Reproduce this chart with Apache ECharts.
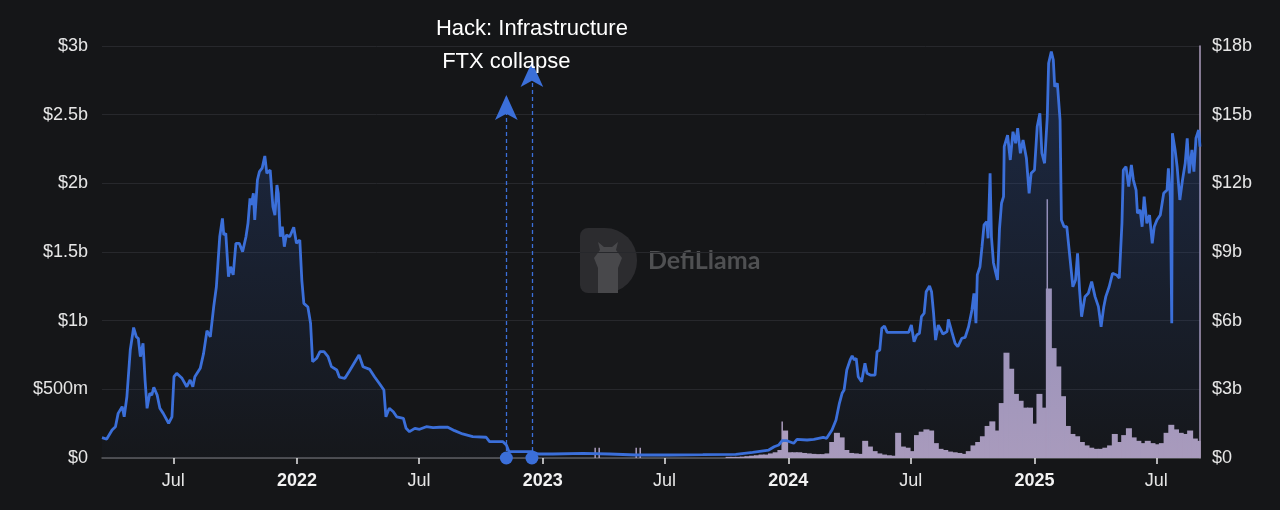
<!DOCTYPE html>
<html>
<head>
<meta charset="utf-8">
<script src="https://cdn.jsdelivr.net/npm/echarts@6/dist/echarts.min.js"></script>
<style>
html,body{margin:0;padding:0;background:#151618;}
#chart{width:1280px;height:510px;}
</style>
</head>
<body>
<div id="chart"></div>
<script>
// TVL in $b
const tvlDates = [
'2021-03-17','2021-03-24','2021-04-01','2021-04-06','2021-04-10','2021-04-16','2021-04-19','2021-04-23','2021-04-25','2021-04-28',
'2021-05-03','2021-05-07','2021-05-10','2021-05-13','2021-05-17','2021-05-20','2021-05-23','2021-05-27','2021-05-30','2021-06-02',
'2021-06-07','2021-06-11','2021-06-16','2021-06-24','2021-06-29','2021-07-02','2021-07-06','2021-07-14','2021-07-21','2021-07-26',
'2021-07-30','2021-08-02','2021-08-10','2021-08-15','2021-08-20','2021-08-25','2021-08-30','2021-09-03','2021-09-06','2021-09-08',
'2021-09-12','2021-09-14','2021-09-17','2021-09-21','2021-09-24','2021-09-28','2021-10-02','2021-10-07','2021-10-12','2021-10-17',
'2021-10-20','2021-10-23','2021-10-25','2021-10-28','2021-10-30','2021-11-03','2021-11-06','2021-11-10','2021-11-14','2021-11-17',
'2021-11-22','2021-11-26','2021-11-29','2021-12-02','2021-12-04','2021-12-07','2021-12-10','2021-12-13','2021-12-16','2021-12-21',
'2021-12-27','2021-12-31','2022-01-05','2022-01-08','2022-01-11','2022-01-17','2022-01-21','2022-01-24','2022-01-30','2022-02-04',
'2022-02-10','2022-02-16','2022-02-21','2022-03-01','2022-03-05','2022-03-13','2022-03-20','2022-03-28','2022-04-03','2022-04-09',
'2022-04-19','2022-04-26','2022-05-03','2022-05-10','2022-05-13','2022-05-18','2022-05-24','2022-05-29','2022-06-08','2022-06-12',
'2022-06-17','2022-06-25','2022-07-02','2022-07-12','2022-07-22','2022-08-01','2022-08-13','2022-08-23','2022-09-04','2022-09-19',
'2022-10-09','2022-10-14','2022-11-03','2022-11-08','2022-11-12','2022-11-23','2022-12-17','2022-12-25','2023-01-16','2023-03-02',
'2023-04-10','2023-05-20','2023-07-08','2023-08-27','2023-10-15','2023-11-09','2023-12-03','2023-12-11','2023-12-18','2023-12-23',
'2023-12-30','2024-01-09','2024-01-14','2024-01-29','2024-02-08','2024-02-22','2024-02-27','2024-03-06','2024-03-12','2024-03-17',
'2024-03-21','2024-03-24','2024-03-28','2024-04-02','2024-04-05','2024-04-08','2024-04-11','2024-04-14','2024-04-19','2024-04-24',
'2024-04-27','2024-05-02','2024-05-09','2024-05-12','2024-05-16','2024-05-19','2024-05-23','2024-05-27','2024-06-10','2024-06-28',
'2024-07-02','2024-07-06','2024-07-10','2024-07-14','2024-07-17','2024-07-21','2024-07-24','2024-07-29','2024-08-01','2024-08-04',
'2024-08-07','2024-08-11','2024-08-18','2024-08-24','2024-08-26','2024-08-31','2024-09-05','2024-09-09','2024-09-15','2024-09-20',
'2024-09-25','2024-09-30','2024-10-03','2024-10-06','2024-10-08','2024-10-12','2024-10-15','2024-10-18','2024-10-22','2024-10-24',
'2024-10-27','2024-10-29','2024-11-01','2024-11-04','2024-11-07','2024-11-10','2024-11-13','2024-11-16','2024-11-17','2024-11-19',
'2024-11-22','2024-11-26','2024-11-30','2024-12-04','2024-12-07','2024-12-11','2024-12-15','2024-12-20','2024-12-24','2024-12-27',
'2025-01-01','2025-01-05','2025-01-09','2025-01-12','2025-01-16','2025-01-20','2025-01-22','2025-01-26','2025-01-29','2025-01-31',
'2025-02-04','2025-02-08','2025-02-10','2025-02-14','2025-02-18','2025-02-23','2025-02-27','2025-03-03','2025-03-06','2025-03-09',
'2025-03-12','2025-03-17','2025-03-22','2025-03-27','2025-04-01','2025-04-06','2025-04-10','2025-04-14','2025-04-17','2025-04-22',
'2025-04-27','2025-05-03','2025-05-07','2025-05-11','2025-05-13','2025-05-17','2025-05-21','2025-05-25','2025-05-28','2025-06-01',
'2025-06-03','2025-06-07','2025-06-10','2025-06-13','2025-06-17','2025-06-21','2025-06-25','2025-06-28','2025-07-02','2025-07-07',
'2025-07-12','2025-07-17','2025-07-19','2025-07-22','2025-07-24','2025-07-25','2025-07-29','2025-08-01','2025-08-05','2025-08-09',
'2025-08-13','2025-08-16','2025-08-19','2025-08-23','2025-08-26','2025-08-29','2025-09-02','2025-09-04'
];
const tvlValues = [
0.148,0.138,0.204,0.228,0.325,0.374,0.30,0.446,0.458,0.786,
0.95,0.883,0.87,0.738,0.835,0.568,0.362,0.471,0.458,0.515,
0.458,0.362,0.325,0.253,0.30,0.592,0.617,0.58,0.519,0.568,
0.519,0.592,0.653,0.762,0.927,0.883,1.10,1.247,1.466,1.611,
1.745,1.624,1.636,1.32,1.393,1.333,1.563,1.563,1.502,1.611,
1.709,1.891,1.842,1.927,1.733,2.024,2.085,2.11,2.199,2.073,
2.097,1.83,1.769,1.988,1.927,1.611,1.684,1.539,1.624,1.611,
1.68,1.563,1.587,1.296,1.126,1.10,0.981,0.701,0.726,0.774,
0.774,0.738,0.665,0.641,0.588,0.58,0.636,0.701,0.75,0.665,
0.645,0.592,0.544,0.495,0.30,0.362,0.337,0.30,0.289,0.216,
0.192,0.216,0.209,0.228,0.221,0.224,0.224,0.199,0.175,0.155,
0.151,0.119,0.119,0.095,0.046,0.046,0.046,0.029,0.029,0.034,
0.029,0.022,0.022,0.024,0.027,0.041,0.058,0.082,0.095,0.126,
0.126,0.107,0.136,0.131,0.136,0.151,0.143,0.204,0.277,0.398,
0.471,0.495,0.641,0.714,0.743,0.714,0.726,0.592,0.556,0.69,
0.617,0.604,0.604,0.774,0.786,0.944,0.961,0.915,0.915,0.915,
0.968,0.847,0.896,0.908,1.029,1.054,1.211,1.252,1.211,1.054,
0.859,0.968,0.903,0.92,1.01,0.92,0.835,0.81,0.872,0.879,
0.956,1.078,1.199,0.981,1.333,1.393,1.539,1.697,1.721,1.60,
2.073,1.611,1.422,1.357,1.296,1.67,1.855,1.903,2.267,2.267,
2.35,2.17,2.376,2.292,2.401,2.219,2.316,2.182,1.927,2.073,
2.097,2.412,2.51,2.219,2.146,2.485,2.874,2.959,2.898,2.704,
2.728,2.461,1.733,1.684,1.684,1.442,1.247,1.296,1.49,1.223,
1.029,1.175,1.199,1.284,1.175,1.102,0.956,1.102,1.175,1.247,
1.345,1.333,1.309,1.709,2.097,2.121,1.976,2.134,2.024,1.951,
1.782,1.806,1.684,1.903,1.709,1.769,1.563,1.684,1.733,1.769,
1.927,1.951,2.11,1.9,0.981,2.364,2.243,2.121,1.879,2.024,
2.146,2.328,2.073,2.243,2.085,2.328,2.388,2.267
];

// Weekly volume in $b, weeks starting 2023-10-01
const volStart = '2023-10-01';
const volStepDays = 7;
const volValues = [
0.05,0.05,0.05,0.06,0.08,0.10,0.12,0.15,0.15,0.20,
0.25,0.35,1.20,0.25,0.25,0.25,0.22,0.20,0.18,0.17,
0.17,0.20,0.70,1.10,0.90,0.35,0.22,0.20,0.18,0.75,
0.50,0.30,0.20,0.15,0.12,0.10,1.10,0.50,0.45,0.30,
1.00,1.15,1.25,1.20,0.65,0.40,0.35,0.28,0.25,0.22,
0.18,0.30,0.55,0.70,0.95,1.40,1.60,1.20,2.40,4.60,
3.90,2.80,2.50,2.20,2.20,1.50,2.80,2.20,7.40,4.80,
4.00,2.70,1.40,1.05,0.95,0.70,0.55,0.45,0.40,0.40,
0.45,0.55,1.05,0.70,1.00,1.30,0.90,0.75,0.65,0.75,
0.65,0.60,0.65,1.10,1.45,1.25,1.10,1.05,1.20,0.85,
0.75
];
// Single-day volume spikes in $b
const spikeDates = ['2023-03-20','2023-03-26','2023-05-20','2023-05-26','2023-12-23','2025-01-20'];
const spikeValues = [0.45, 0.45, 0.45, 0.45, 1.6, 11.3];

// Events
const eventNames = ['FTX collapse', 'Hack: Infrastructure'];
const eventDates = ['2022-11-08', '2022-12-16'];
const eventHeights = [2.643, 2.884];

// Axis ticks
const leftTicks = ['$0','$500m','$1b','$1.5b','$2b','$2.5b','$3b'];
const rightTicks = ['$0','$3b','$6b','$9b','$12b','$15b','$18b'];
const xTickMonths = [[2021,6],[2022,0],[2022,6],[2023,0],[2023,6],[2024,0],[2024,6],[2025,0],[2025,6]];

function parseD(s){const p=s.split('-').map(Number);return new Date(p[0],p[1]-1,p[2]).getTime();}
const tvlData = tvlDates.map((d,i)=>[parseD(d), tvlValues[i]]);
const volData = [];
const vs = parseD(volStart);
volValues.forEach((v,i)=>{const dt=new Date(vs); dt.setDate(dt.getDate()+i*volStepDays); volData.push([dt.getTime(), v]);});
const spikeData = spikeDates.map((d,i)=>[parseD(d), spikeValues[i]]);
const xTicks = xTickMonths.map(([y,m])=>new Date(y,m,1).getTime());

const font = "'Liberation Sans', Arial, Helvetica, sans-serif";
const chart = echarts.init(document.getElementById('chart'), null, {renderer:'canvas'});
const lineColor = '#3b6fd9';
const volColor = '#ab9cbd';

const markData = eventNames.map((n,i)=>[
  {coord:[parseD(eventDates[i]),0], symbol:'circle', symbolSize:13},
  {coord:[parseD(eventDates[i]),eventHeights[i]], symbol:'arrow', symbolSize:[17,25], name:n}
]);

chart.setOption({
  backgroundColor:'#151618',
  animation:false,
  grid:{left:102,right:80,top:46,bottom:52},
  xAxis:{
    type:'value',
    min:parseD('2021-03-17'), max:parseD('2025-09-04'),
    axisLine:{show:true,lineStyle:{color:'#5c5c60',width:1.5}},
    axisTick:{show:true,customValues:xTicks,length:6,lineStyle:{color:'#e8e8e8',width:1.5}},
    splitLine:{show:false},
    axisLabel:{
      customValues:xTicks,
      margin:14,
      color:'#e6e6e6', fontSize:18, fontFamily:font,
      formatter:function(v){const d=new Date(v);return d.getMonth()===0?'{b|'+d.getFullYear()+'}':'Jul';},
      rich:{b:{fontWeight:'bold',fontSize:18,color:'#f2f2f2',fontFamily:font}}
    }
  },
  yAxis:[
    {type:'value',min:0,max:3,interval:0.5,position:'left',
     axisLine:{show:false},axisTick:{show:false},
     splitLine:{lineStyle:{color:'#27282c',width:1}},
     axisLabel:{margin:14,color:'#e6e6e6',fontSize:18,fontFamily:font,
       formatter:function(v){return leftTicks[Math.round(v/0.5)];}}},
    {type:'value',min:0,max:18,interval:3,position:'right',
     axisLine:{show:true,lineStyle:{color:volColor,width:1.5}},axisTick:{show:false},
     splitLine:{show:false},
     axisLabel:{margin:12,color:'#e6e6e6',fontSize:18,fontFamily:font,
       formatter:function(v){return rightTicks[Math.round(v/3)];}}}
  ],
  series:[
    {name:'Volume',type:'bar',yAxisIndex:1,data:volData,barWidth:6,barGap:'-100%',
     itemStyle:{color:volColor},z:1,silent:true},
    {name:'Volume spikes',type:'bar',yAxisIndex:1,data:spikeData,barWidth:1.5,barGap:'-100%',
     itemStyle:{color:volColor},z:1,silent:true},
    {name:'TVL',type:'line',yAxisIndex:0,data:tvlData,showSymbol:false,z:3,
     lineStyle:{color:lineColor,width:2.8},
     itemStyle:{color:lineColor},
     areaStyle:{color:{type:'linear',x:0,y:0,x2:0,y2:1,colorStops:[
       {offset:0,color:'rgba(46,86,170,0.45)'},
       {offset:1,color:'rgba(46,86,170,0.03)'}]}},
     markLine:{
       silent:true,
       lineStyle:{color:lineColor,type:[4,3],width:1.3},
       label:{show:true,position:'end',formatter:'{b}',color:'#ffffff',fontSize:22,fontFamily:font,distance:22},
       data:markData
     }}
  ],
  graphic:[
    {type:'rect',left:580,top:228,z:0,silent:true,shape:{width:57,height:65,r:[8,32,32,8]},style:{fill:'#2c2c2f'}},
    {type:'polygon',z:0,silent:true,shape:{points:[[598,293],[598,268],[594,258],[600,250],[598,242],[604,247],[612,247],[618,242],[616,250],[622,258],[618,268],[618,293]]},style:{fill:'#48484b'}},
    {type:'text',left:648,top:248,z:0,silent:true,
     style:{text:'DefiLlama',fill:'#4f5052',fontSize:25,fontWeight:'bold',fontFamily:"Lato, 'Open Sans', sans-serif"}}
  ]
});
</script>
</body>
</html>
